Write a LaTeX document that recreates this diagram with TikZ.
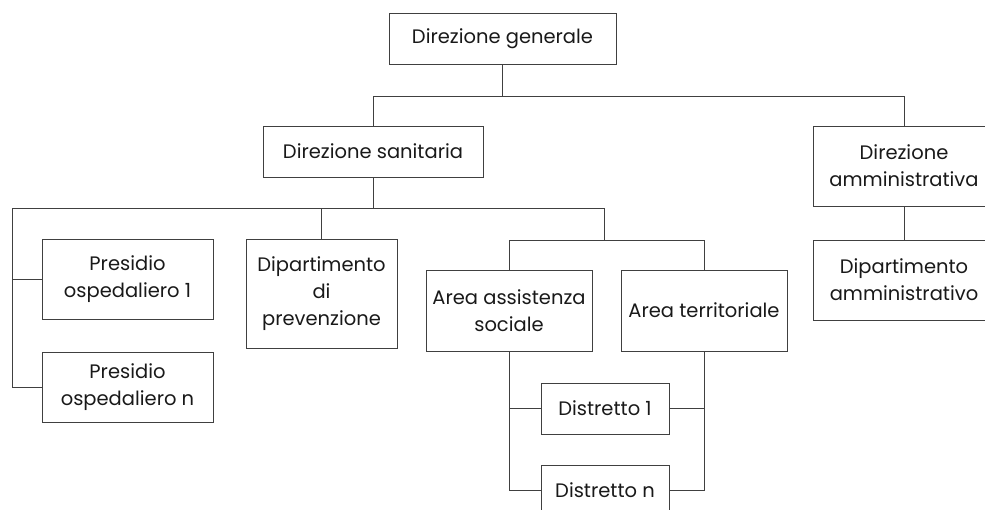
\documentclass[tikz,border=0pt]{standalone}
\usepackage{fontspec}
\setmainfont{Poppins}
\begin{document}
\begin{tikzpicture}[x=1pt,y=-1pt,
  box/.style={draw=black!75,line width=0.9pt,rectangle,inner sep=0pt,
    align=center,font=\fontsize{19.5}{27}\selectfont,text=black!90},
  link/.style={draw=black!75,line width=0.9pt}]
\useasboundingbox (0,0) rectangle (985,509);
\begin{scope}
\clip (0,0) rectangle (985,509);
% top level
\node[box,minimum width=227,minimum height=51] (dg) at (502.5,38.5) {Direzione generale};
\node[box,minimum width=220,minimum height=51] (ds) at (373,151.5) {Direzione sanitaria};
\node[box,minimum width=182,minimum height=80] (da) at (904,166) {Direzione\\amministrativa};
\node[box,minimum width=182,minimum height=80] (dam) at (904,280) {Dipartimento\\amministrativo};
% hospitals
\node[box,minimum width=171,minimum height=80] (po1) at (127.5,279) {Presidio\\ospedaliero 1};
\node[box,minimum width=171,minimum height=70] (pon) at (127.5,387) {Presidio\\ospedaliero n};
% prevention
\node[box,minimum width=151,minimum height=109] (dp) at (321.5,293.5) {Dipartimento\\di\\prevenzione};
% areas
\node[box,minimum width=166,minimum height=81] (aas) at (509,310.5) {Area assistenza\\sociale};
\node[box,minimum width=166,minimum height=81] (at) at (704,310.5) {Area territoriale};
% districts
\node[box,minimum width=128,minimum height=51] (d1) at (605,408.5) {Distretto 1};
\node[box,minimum width=128,minimum height=51] (dn) at (605,490.5) {Distretto n};
% junctions
\coordinate (j1) at (502.5,96);
\coordinate (j2) at (373,208);
\coordinate (j3) at (604,240);
\coordinate (l0) at (12,208);
% connectors
\draw[link] (dg) -- (j1);
\draw[link] (ds.north |- j1) -- (da.north |- j1);
\draw[link] (ds.north |- j1) -- (ds.north);
\draw[link] (da.north |- j1) -- (da.north);
\draw[link] (da) -- (dam);
\draw[link] (ds) -- (j2);
\draw[link] (l0) -- (j3 |- j2);
\draw[link] (l0) |- (po1.west);
\draw[link] (l0) |- (pon.west);
\draw[link] (dp.north |- j2) -- (dp.north);
\draw[link] (j3 |- j2) -- (j3);
\draw[link] (aas.north |- j3) -- (at.north |- j3);
\draw[link] (aas.north |- j3) -- (aas.north);
\draw[link] (at.north |- j3) -- (at.north);
\draw[link] (aas.south) |- (d1.west);
\draw[link] (aas.south) |- (dn.west);
\draw[link] (at.south) |- (d1.east);
\draw[link] (at.south) |- (dn.east);
\end{scope}
\end{tikzpicture}
\end{document}
